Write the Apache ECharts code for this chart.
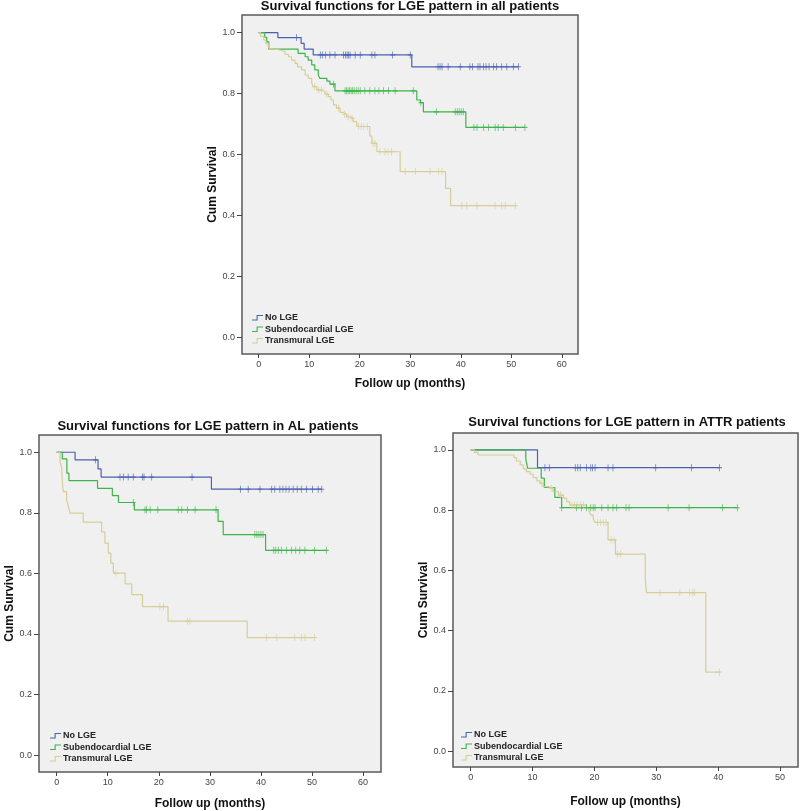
<!DOCTYPE html>
<html><head><meta charset="utf-8">
<script src="https://cdn.jsdelivr.net/npm/echarts@6/dist/echarts.min.js"></script>
<style>html,body{margin:0;padding:0;background:#fff}#c{width:800px;height:811px}</style>
</head><body><div id="c"></div>
<script>
// ---------- tick labels ----------
const X_TICKS_60 = [0,10,20,30,40,50,60];
const X_TICKS_50 = [0,10,20,30,40,50];
const Y_TICKS = [0,0.2,0.4,0.6,0.8,1.0];
const GROUPS = ['No LGE','Subendocardial LGE','Transmural LGE'];
const TITLES = ['Survival functions for LGE pattern in all patients',
                'Survival functions for LGE pattern in AL patients',
                'Survival functions for LGE pattern in ATTR patients'];

// ---------- all patients ----------
const allNoT = [0,3.8,8.4,9.0,10.8,30.3];
const allNoS = [1,0.984,0.965,0.946,0.927,0.888];
const allNoC = [7.5,12.2,12.6,13.2,14.1,15.1,16.8,17.2,17.5,17.8,18.1,19.1,20.1,22.4,23.0,26.5,30.0,35.5,35.9,36.3,37.5,39.9,41.8,42.3,43.4,43.8,44.5,45.0,45.6,46.5,47.1,48.1,49.1,50.4,51.4];
const allSubT = [0,1.2,1.6,2.0,7.8,9.2,9.8,10.5,11.1,11.8,12.1,13.5,14.1,15.1,31.3,32.0,32.6,41.0];
const allSubS = [1,0.985,0.97,0.946,0.932,0.921,0.910,0.894,0.878,0.861,0.850,0.841,0.831,0.809,0.779,0.770,0.740,0.689];
const allSubC = [14.8,17.1,17.4,17.7,18.0,18.3,18.6,18.9,19.3,19.7,20.1,21.0,22.0,23.0,23.8,24.7,25.7,27.0,30.6,32.1,35.2,38.9,39.3,39.7,40.1,40.5,42.6,43.2,44.5,45.5,46.8,47.4,48.4,50.8,52.7];
const allTrT = [0,0.4,1.0,1.4,1.9,2.2,3.2,4.2,5.2,5.9,6.5,7.2,7.7,8.5,9.2,9.8,10.5,10.8,11.5,12.5,13.1,13.8,14.3,14.8,15.4,16.1,16.8,17.4,18.1,18.7,19.4,22.0,22.4,23.4,28.0,37.0,38.0];
const allTrS = [1,0.988,0.976,0.965,0.954,0.946,0.943,0.938,0.929,0.921,0.910,0.899,0.888,0.878,0.861,0.850,0.834,0.823,0.812,0.806,0.798,0.790,0.779,0.763,0.752,0.738,0.732,0.724,0.719,0.708,0.692,0.66,0.637,0.609,0.544,0.489,0.432];
const allTrC = [11.1,11.9,12.4,13.5,15.8,17.0,17.7,18.5,19.8,20.3,20.8,21.5,22.6,23.0,24.0,25.0,25.6,26.3,29.0,31.0,33.9,35.6,36.3,40.2,41.2,43.2,46.8,48.1,48.8,50.8];

// ---------- AL patients ----------
const alNoT = [0,3.6,8.1,8.7,30.3];
const alNoS = [1,0.975,0.945,0.918,0.878];
const alNoC = [7.6,12.4,13.1,14.0,15.0,16.8,17.1,18.6,26.5,36.0,37.5,39.8,42.1,42.7,43.7,44.3,44.9,45.5,46.3,47.1,47.9,48.9,50.1,51.2,51.9];
const alSubT = [0,1.1,2.0,2.4,8.0,10.9,12.1,15.2,31.6,32.6,40.9];
const alSubS = [1,0.978,0.931,0.906,0.881,0.857,0.834,0.810,0.772,0.728,0.676];
const alSubC = [15.0,17.3,17.6,18.3,19.8,23.8,24.5,25.6,27.1,31.2,38.8,39.2,39.6,40.0,40.4,42.5,42.9,43.4,44.0,45.0,46.0,46.8,47.6,48.6,50.5,52.8];
const alTrT = [0,0.65,1.0,1.1,1.3,1.95,2.3,2.6,5.2,8.8,9.45,10.1,10.6,11.1,13.4,14.7,16.8,21.8,37.3];
const alTrS = [1,0.969,0.947,0.903,0.870,0.843,0.821,0.799,0.769,0.737,0.700,0.667,0.634,0.601,0.565,0.530,0.490,0.442,0.388];
const alTrC = [11.6,20.2,20.9,25.6,26.1,41.1,43.1,46.6,47.9,48.6,50.5];

// ---------- ATTR patients ----------
const atNoT = [0,10.8];
const atNoS = [1,0.941];
const atNoC = [12.0,12.7,16.9,17.3,17.7,18.7,19.4,19.7,20.1,22.2,23.0,29.9,35.7,40.2];
const atSubT = [0,8.9,9.2,11.4,11.9,13.6,14.7];
const atSubS = [1,0.970,0.939,0.906,0.875,0.842,0.808];
const atSubC = [14.7,17.1,17.9,18.7,19.4,19.8,20.1,21.2,22.2,23.0,23.6,25.1,25.6,31.9,35.3,40.7,43.1];
const atTrT = [0,0.6,1.2,7.0,7.4,8.0,8.5,9.0,9.6,10.1,10.7,11.2,11.7,12.5,13.3,14.2,15.0,15.5,16.0,18.7,19.1,19.4,19.8,20.1,22.2,23.4,28.2,28.4,38.0];
const atTrS = [1,0.992,0.983,0.974,0.963,0.950,0.937,0.928,0.919,0.908,0.897,0.889,0.878,0.873,0.861,0.850,0.840,0.828,0.817,0.806,0.797,0.784,0.771,0.759,0.701,0.654,0.579,0.526,0.262];
const atTrC = [11.5,13.0,14.5,16.4,16.8,17.2,17.7,18.2,20.5,21.0,21.5,21.9,22.7,23.2,23.7,24.2,30.6,33.8,35.4,35.9,36.2,40.2];

// ---------- styling ----------
const COLORS = ['#4a60b0','#3db44b','#d6cd98'];
const STEP_ICON = 'path://M0,5 L5,5 L5,0 L12,0 L12,1.2 L6.2,1.2 L6.2,6.2 L0,6.2 Z';
const PLUS = 'path://M4.2,0 L5.8,0 L5.8,4.2 L10,4.2 L10,5.8 L5.8,5.8 L5.8,10 L4.2,10 L4.2,5.8 L0,5.8 L0,4.2 L4.2,4.2 Z';
const FONT = 'Liberation Sans, Arial, sans-serif';

const panels = [
  {title:TITLES[0], tx:410, ty:0, grid:{left:242,top:15,width:336,height:339},
   xr:[-3.3,63.2], yr:[-0.055,1.058], xt:X_TICKS_60, legend:{left:252,top:312}, xGap:24,
   curves:[[allNoT,allNoS,allNoC],[allSubT,allSubS,allSubC],[allTrT,allTrS,allTrC]]},
  {title:TITLES[1], tx:208, ty:420, grid:{left:39,top:435,width:342,height:338},
   xr:[-3.46,63.5], yr:[-0.056,1.057], xt:X_TICKS_60, legend:{left:50,top:730}, xGap:26,
   curves:[[alNoT,alNoS,alNoC],[alSubT,alSubS,alSubC],[alTrT,alTrS,alTrC]]},
  {title:TITLES[2], tx:627, ty:416, grid:{left:453,top:433,width:345,height:334},
   xr:[-2.86,52.9], yr:[-0.053,1.056], xt:X_TICKS_50, legend:{left:461,top:729}, xGap:29,
   curves:[[atNoT,atNoS,atNoC],[atSubT,atSubS,atSubC],[atTrT,atTrS,atTrC]]}
];

function survAt(T,S,t){ let v=S[0]; for(let i=0;i<T.length;i++){ if(T[i]<=t) v=S[i]; } return v; }

const option = {animation:false, backgroundColor:'#fff', title:[], grid:[], xAxis:[], yAxis:[], legend:[], series:[]};
panels.forEach((p,k)=>{
  option.title.push({text:p.title, left:p.tx, top:p.ty, textAlign:'center', padding:0,
    textStyle:{fontFamily:FONT, fontSize:13, fontWeight:'bold', color:'#111'}});
  option.grid.push(Object.assign({show:true, backgroundColor:'#f0f0f0', borderColor:'#5a5a5a', borderWidth:1.5, containLabel:false}, p.grid));
  option.xAxis.push({type:'value', gridIndex:k, min:p.xr[0], max:p.xr[1], position:'bottom',
    name:'Follow up (months)', nameLocation:'middle', nameGap:p.xGap,
    nameTextStyle:{fontFamily:FONT, fontSize:12, fontWeight:'bold', color:'#111'},
    axisLine:{show:false, onZero:false}, splitLine:{show:false},
    axisTick:{show:true, inside:false, length:4, customValues:p.xt, lineStyle:{color:'#444'}},
    axisLabel:{customValues:p.xt, margin:6, fontSize:9, color:'#444', fontFamily:FONT}});
  option.yAxis.push({type:'value', gridIndex:k, min:p.yr[0], max:p.yr[1], position:'left',
    name:'Cum Survival', nameLocation:'middle', nameGap:22, nameRotate:90,
    nameTextStyle:{fontFamily:FONT, fontSize:12, fontWeight:'bold', color:'#111'},
    axisLine:{show:false, onZero:false}, splitLine:{show:false},
    axisTick:{show:true, inside:false, length:5, customValues:Y_TICKS, lineStyle:{color:'#444'}},
    axisLabel:{customValues:Y_TICKS, margin:7, fontSize:9, color:'#444', fontFamily:FONT,
      formatter:v=>v.toFixed(1)}});
  option.legend.push({data:GROUPS, orient:'vertical', left:p.legend.left, top:p.legend.top, padding:0,
    icon:STEP_ICON, itemWidth:11, itemHeight:6, itemGap:0, selectedMode:false,
    textStyle:{fontFamily:FONT, fontSize:9, fontWeight:'bold', color:'#222', lineHeight:11.5, padding:[0,0,0,-3]}});
  p.curves.forEach((c,g)=>{
    const [T,S,C] = c;
    const end = Math.max(T[T.length-1], C.length? C[C.length-1] : 0);
    const line = T.map((t,i)=>[t,S[i]]); line.push([end, S[S.length-1]]);
    option.series.push({type:'line', name:GROUPS[g], xAxisIndex:k, yAxisIndex:k, step:'end', data:line,
      showSymbol:false, symbol:'none', silent:true, z:3,
      lineStyle:{color:COLORS[g], width:1.2}, itemStyle:{color:COLORS[g]}});
    option.series.push({type:'scatter', name:GROUPS[g]+' censored', xAxisIndex:k, yAxisIndex:k,
      data:C.map(t=>[t, survAt(T,S,t)]), symbol:PLUS, symbolSize:[5,7], silent:true, z:4,
      itemStyle:{color:COLORS[g]}});
  });
});
const chart = echarts.init(document.getElementById('c'));
chart.setOption(option);
</script>
</body></html>
